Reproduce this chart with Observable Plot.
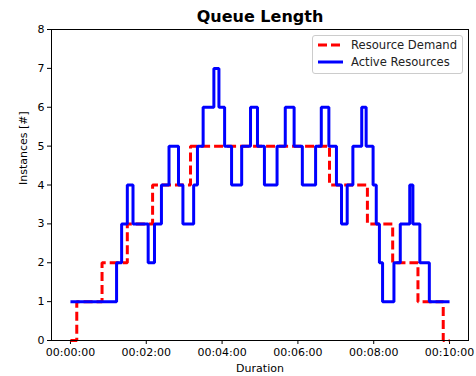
<!DOCTYPE html>
<html><head><meta charset="utf-8">
<script src="https://cdn.jsdelivr.net/npm/d3@7"></script>
<script src="https://cdn.jsdelivr.net/npm/@observablehq/plot@0.6"></script>
<style>
body{margin:0;background:#fff;font-family:"DejaVu Sans",sans-serif;}
#wrap{position:relative;width:476px;height:376px;}
#legend{position:absolute;left:312px;top:35px;width:149px;height:37px;border:1px solid #ccc;border-radius:3px;background:rgba(255,255,255,0.8);font-size:11.6px;color:#222;}
.row{position:absolute;left:4px;height:14px;display:flex;align-items:center;white-space:nowrap;}
.row span{margin-left:8px;}
</style></head><body>
<div id="wrap"><div id="chart"></div>
<div id="legend">
<div class="row" style="top:2px"><svg width="26" height="6"><line x1="1" y1="3" x2="26" y2="3" stroke="#ff0000" stroke-width="3" stroke-dasharray="9,4"/></svg><span>Resource Demand</span></div>
<div class="row" style="top:19px"><svg width="26" height="6"><line x1="1" y1="3" x2="26" y2="3" stroke="#0000ff" stroke-width="3"/></svg><span>Active Resources</span></div>
</div></div>
<script>
const demandTimes = [0,10,50,90,130,190,410,470,510,550,590,600];
const demandValues = [0,1,2,3,4,5,4,3,2,1,0,0];
const activeTimes = [0,73,81,90,99,123,133,144,156,171,178,195,201,210,227,235,244,255,271,285,296,307,327,340,354,367,388,397,409,421,429,438,447,461,468,479,484,489,494,512,522,537,542,553,568,600];
const activeValues = [1,2,3,4,3,2,3,4,5,4,3,4,5,6,7,6,5,4,5,6,5,4,5,6,5,4,5,6,5,4,3,4,5,6,5,4,3,2,1,2,3,4,3,2,1,1];
const xTicks = [0,120,240,360,480,600];
const yTicks = [0,1,2,3,4,5,6,7,8];

const demand = demandTimes.map((t,i)=>({t, v: demandValues[i]}));
const active = activeTimes.map((t,i)=>({t, v: activeValues[i]}));
const fmt = s => { const m = Math.floor(s/60), ss = s%60; return "00:" + String(m).padStart(2,"0") + ":" + String(ss).padStart(2,"0"); };

const chart = Plot.plot({
  width: 476, height: 376,
  marginLeft: 51, marginRight: 8, marginTop: 29, marginBottom: 36,
  style: {fontFamily: "DejaVu Sans, sans-serif", fontSize: "11px", color: "#000", background: "#fff"},
  x: {domain: [-30, 630], ticks: xTicks, tickFormat: fmt, label: null},
  y: {domain: [0, 8], ticks: yTicks, label: null},
  marks: [
    Plot.axisX({ticks: xTicks, tickFormat: fmt, tickSize: 4, tickPadding: 4, fontSize: 11, label: null}),
    Plot.axisY({ticks: yTicks, tickSize: 4, tickPadding: 3, fontSize: 11, label: null}),
    Plot.line(demand, {x: "t", y: "v", curve: "step-after", stroke: "#ff0000", strokeWidth: 3, strokeDasharray: "9,4", strokeLinejoin: "miter", strokeLinecap: "butt"}),
    Plot.line(active, {x: "t", y: "v", curve: "step-after", stroke: "#0000ff", strokeWidth: 3, strokeLinejoin: "miter", strokeLinecap: "butt"}),
    Plot.frame({stroke: "#000", strokeWidth: 1}),
    Plot.text(["Queue Length"], {frameAnchor: "top", lineAnchor: "middle", dy: -13, fontSize: 16, fontWeight: "bold", fill: "#000"}),
    Plot.text(["Duration"], {frameAnchor: "bottom", lineAnchor: "middle", dy: 28, fontSize: 11, fill: "#000"}),
    Plot.text(["Instances [#]"], {frameAnchor: "left", dx: -28, rotate: -90, fontSize: 11, fill: "#000"})
  ]
});
document.getElementById("chart").appendChild(chart);
</script>
</body></html>
